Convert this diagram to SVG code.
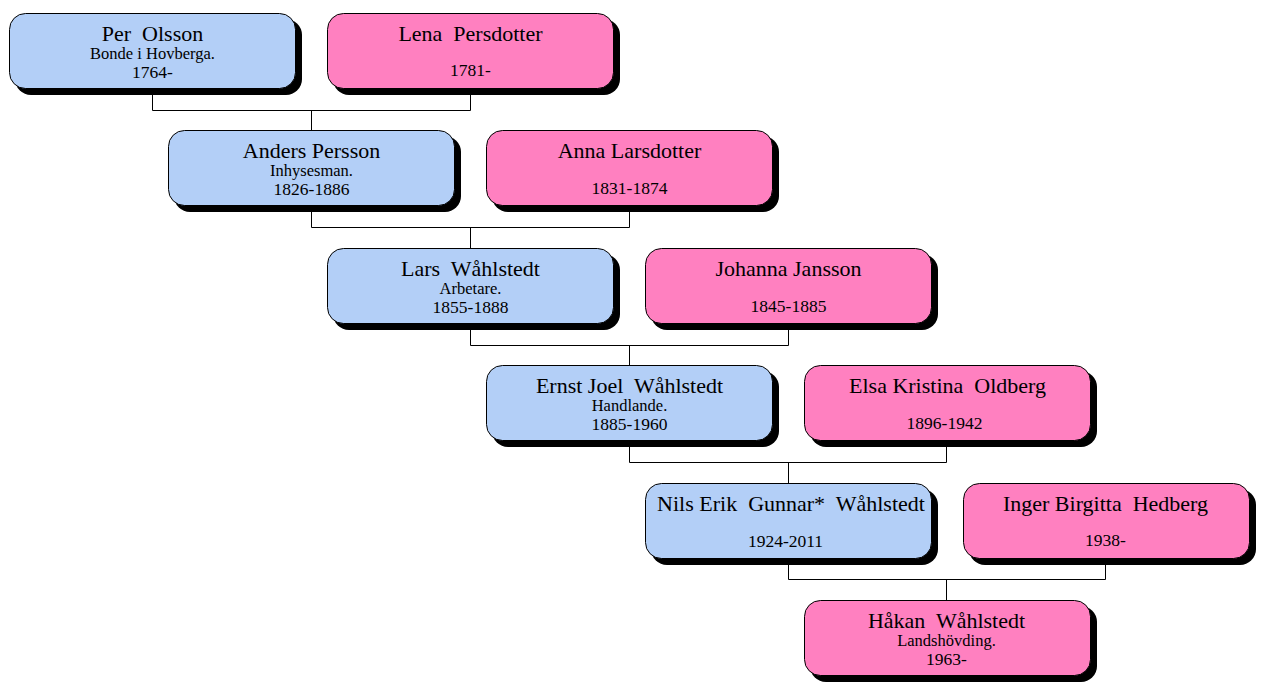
<svg xmlns="http://www.w3.org/2000/svg" width="1265" height="692" viewBox="0 0 1265 692" xml:space="preserve">
<style>
.sh{fill:#000}
.m{fill:#b3cff7;stroke:#000;stroke-width:1}
.f{fill:#ff80c0;stroke:#000;stroke-width:1}
text{font-family:"Liberation Serif","Times New Roman",serif;fill:#000;text-anchor:middle;white-space:pre}
.n{font-size:22px}
.s{font-size:16.5px}
.y{font-size:17.5px}
.c{fill:none;stroke:#000;stroke-width:1}
</style>
<g id="connectors">
<path class="c" d="M152.5 89V110.5H470.5V89M311.5 110.5V130"/>
<path class="c" d="M311.5 206V227.5H629.5V206M470.5 227.5V248"/>
<path class="c" d="M470.5 324V345.5H788.5V324M629.5 345.5V365"/>
<path class="c" d="M629.5 441V462.5H946.5V441M788.5 462.5V483"/>
<path class="c" d="M788.5 559V579.5H1105.5V559M946.5 579.5V600"/>
</g>
<g id="per">
<rect class="sh" x="15" y="19" width="287" height="76" rx="16"/>
<rect class="m" x="9.5" y="13.5" width="286" height="75" rx="16"/>
<text class="n" x="152.5" y="40.5">Per  Olsson</text>
<text class="s" x="152.5" y="59">Bonde i Hovberga.</text>
<text class="y" x="152.5" y="77.5">1764-</text>
</g>
<g id="lena">
<rect class="sh" x="333" y="19" width="287" height="76" rx="16"/>
<rect class="f" x="327.5" y="13.5" width="286" height="75" rx="16"/>
<text class="n" x="470.5" y="40.5">Lena  Persdotter</text>
<text class="y" x="470.5" y="76">1781-</text>
</g>
<g id="anders">
<rect class="sh" x="174" y="136" width="287" height="76" rx="16"/>
<rect class="m" x="168.5" y="130.5" width="286" height="75" rx="16"/>
<text class="n" x="311.5" y="157.5">Anders Persson</text>
<text class="s" x="311.5" y="176">Inhysesman.</text>
<text class="y" x="311.5" y="194.5">1826-1886</text>
</g>
<g id="anna">
<rect class="sh" x="492" y="136" width="287" height="76" rx="16"/>
<rect class="f" x="486.5" y="130.5" width="286" height="75" rx="16"/>
<text class="n" x="629.5" y="157.5">Anna Larsdotter</text>
<text class="y" x="629.5" y="193.5">1831-1874</text>
</g>
<g id="lars">
<rect class="sh" x="333" y="254" width="287" height="76" rx="16"/>
<rect class="m" x="327.5" y="248.5" width="286" height="75" rx="16"/>
<text class="n" x="470.5" y="275.5">Lars  Wåhlstedt</text>
<text class="s" x="470.5" y="294">Arbetare.</text>
<text class="y" x="470.5" y="312.5">1855-1888</text>
</g>
<g id="johanna">
<rect class="sh" x="651" y="254" width="287" height="76" rx="16"/>
<rect class="f" x="645.5" y="248.5" width="286" height="75" rx="16"/>
<text class="n" x="788.5" y="275.5">Johanna Jansson</text>
<text class="y" x="788.5" y="311.5">1845-1885</text>
</g>
<g id="ernst">
<rect class="sh" x="492" y="371" width="287" height="76" rx="16"/>
<rect class="m" x="486.5" y="365.5" width="286" height="75" rx="16"/>
<text class="n" x="629.5" y="392.5">Ernst Joel  Wåhlstedt</text>
<text class="s" x="629.5" y="411">Handlande.</text>
<text class="y" x="629.5" y="429.5">1885-1960</text>
</g>
<g id="elsa">
<rect class="sh" x="810" y="371" width="287" height="76" rx="16"/>
<rect class="f" x="804.5" y="365.5" width="286" height="75" rx="16"/>
<text class="n" x="947.5" y="392.5">Elsa Kristina  Oldberg</text>
<text class="y" x="944.5" y="428.5">1896-1942</text>
</g>
<g id="nils">
<rect class="sh" x="651" y="489" width="287" height="76" rx="16"/>
<rect class="m" x="645.5" y="483.5" width="286" height="75" rx="16"/>
<text class="n" x="791" y="510.5">Nils Erik  Gunnar*  Wåhlstedt</text>
<text class="y" x="785.5" y="546.5">1924-2011</text>
</g>
<g id="inger">
<rect class="sh" x="969" y="489" width="287" height="76" rx="16"/>
<rect class="f" x="963.5" y="483.5" width="286" height="75" rx="16"/>
<text class="n" x="1105.5" y="510.5">Inger Birgitta  Hedberg</text>
<text class="y" x="1105.5" y="546">1938-</text>
</g>
<g id="hakan">
<rect class="sh" x="810" y="606" width="287" height="76" rx="16"/>
<rect class="f" x="804.5" y="600.5" width="286" height="75" rx="16"/>
<text class="n" x="946.5" y="627.5">Håkan  Wåhlstedt</text>
<text class="s" x="946.5" y="646">Landshövding.</text>
<text class="y" x="946.5" y="664.5">1963-</text>
</g>
</svg>
